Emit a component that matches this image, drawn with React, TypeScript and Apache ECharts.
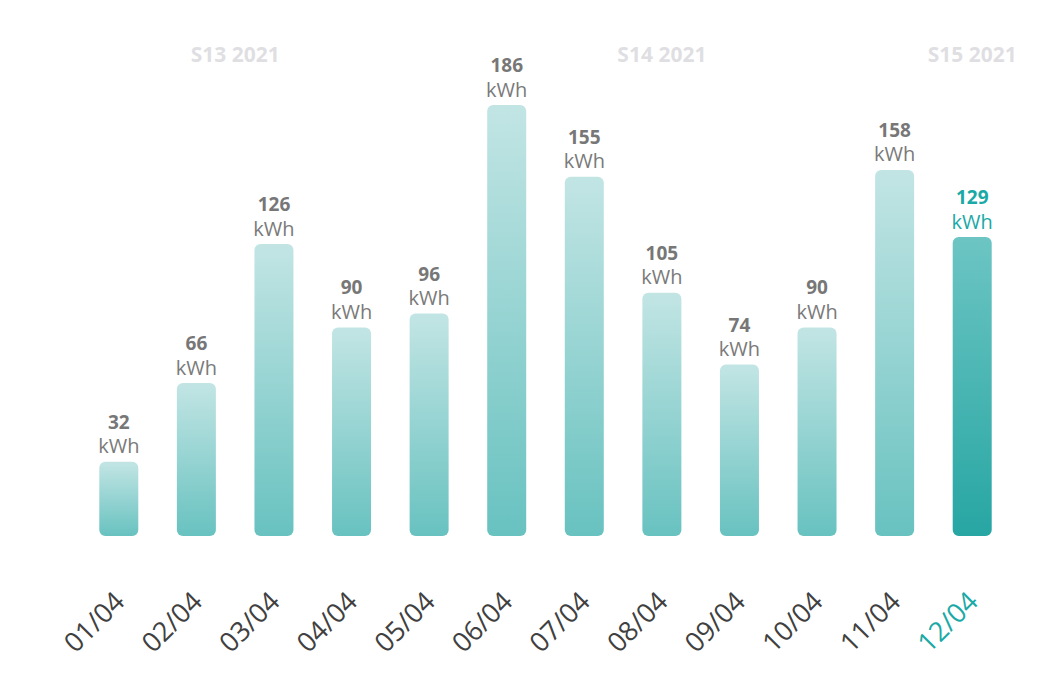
import React, { useEffect, useRef } from "react";
import * as echarts from "echarts";

const categories = ["01/04", "02/04", "03/04", "04/04", "05/04", "06/04", "07/04", "08/04", "09/04", "10/04", "11/04", "12/04"];
const values = [32, 66, 126, 90, 96, 186, 155, 105, 74, 90, 158, 129];
const unit = "kWh";
const weeks = [
  { label: "S13 2021", from: "01/04", to: "04/04" },
  { label: "S14 2021", from: "05/04", to: "11/04" },
  { label: "S15 2021", from: "12/04", to: "12/04" },
];
const highlightIndex = 11;

const FONT = "'Open Sans', 'Noto Sans', sans-serif";

export default function App() {
  const ref = useRef<HTMLDivElement>(null);
  useEffect(() => {
    if (!ref.current) return;
    const chart = echarts.init(ref.current, undefined, { renderer: "svg" });
    const normalGrad = new echarts.graphic.LinearGradient(0, 0, 0, 1, [
      { offset: 0, color: "#c2e5e4" },
      { offset: 1, color: "#68c2c0" },
    ]);
    const hiGrad = new echarts.graphic.LinearGradient(0, 0, 0, 1, [
      { offset: 0, color: "#6cc5c3" },
      { offset: 1, color: "#27a6a3" },
    ]);
    const data = values.map((v, i) => {
      const hi = i === highlightIndex;
      return {
        value: v,
        itemStyle: { color: hi ? hiGrad : normalGrad, borderRadius: 6 },
        label: {
          rich: {
            v: { fontFamily: FONT, fontSize: 19, fontWeight: "bold", color: hi ? "#1aa9a6" : "#777777", lineHeight: 24 },
            u: { fontFamily: FONT, fontSize: 20, color: hi ? "#1aa9a6" : "#7a7a7a", lineHeight: 24 },
          },
        },
      };
    });
    chart.setOption({
      animation: false,
      backgroundColor: "#ffffff",
      grid: { left: 80, right: 31, top: 105, bottom: 145 },
      xAxis: {
        type: "category",
        data: categories,
        axisLine: { show: false },
        axisTick: { show: false },
        axisLabel: {
          rotate: 45,
          margin: 60,
          fontFamily: FONT,
          fontSize: 27,
          fontWeight: "normal",
          color: (val: string) => (val === categories[highlightIndex] ? "#1aa9a6" : "#404040"),
        },
      },
      yAxis: {
        type: "value",
        min: 0,
        max: 186,
        show: false,
        splitLine: { show: false },
      },
      series: [
        {
          type: "bar",
          data,
          barWidth: 39,
          label: {
            show: true,
            position: "top",
            distance: 4,
            formatter: (p: any) => `{v|${p.value}}\n{u|${unit}}`,
          },
          markArea: {
            silent: true,
            itemStyle: { color: "rgba(0,0,0,0)" },
            label: {
              show: true,
              position: "top",
              distance: 41,
              fontFamily: FONT,
              fontSize: 21,
              fontWeight: "bold",
              color: "#dfdfe3",
            },
            data: weeks.map((w) => [
              { name: w.label, xAxis: w.from },
              { xAxis: w.to },
            ]),
          },
        },
      ],
    });
    return () => chart.dispose();
  }, []);
  return (
    <div
      ref={ref}
      style={{ position: "fixed", left: 0, top: 0, width: "1042px", height: "681px" }}
    />
  );
}
